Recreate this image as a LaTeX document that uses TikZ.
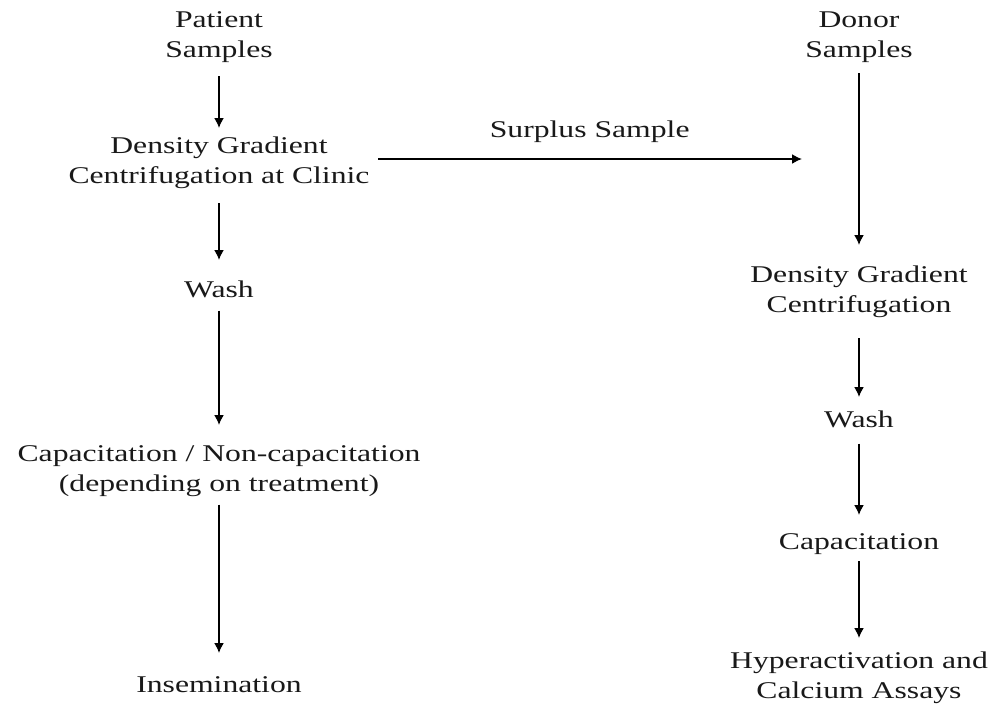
\documentclass[tikz,border=0pt]{standalone}
\usepackage{fontspec}
\setmainfont{Liberation Serif}[FakeStretch=1.32]
\usetikzlibrary{arrows.meta}
\definecolor{ink}{gray}{0.1}
\tikzset{
  lbl/.style={inner sep=0pt, outer sep=0pt, align=center, anchor=north, text=ink,
              font=\fontsize{24}{30}\selectfont},
  arr/.style={draw=black, line width=1.6pt, -{Latex[length=10pt,width=10pt]}}
}
\begin{document}
\begin{tikzpicture}[x=1pt,y=-1pt]
\useasboundingbox[fill=white] (0,0) rectangle (994,715);
% left column
\node[lbl] (pat)  at (219,12)    {Patient\\Samples};
\node[lbl] (dgcL) at (219,137)   {Density Gradient\\Centrifugation at Clinic};
\node[lbl] (washL) at (219,280.6) {Wash};
\node[lbl] (capL) at (219,445.6) {Capacitation / Non-capacitation\\(depending on treatment)};
\node[lbl] (ins)  at (219,676.6) {Insemination};
% right column
\node[lbl] (don)  at (859,12)    {Donor\\Samples};
\node[lbl] (dgcR) at (859,265.6) {Density Gradient\\Centrifugation};
\node[lbl] (washR) at (859,410.6) {Wash};
\node[lbl] (capR) at (859,533.6) {Capacitation};
\node[lbl] (hyp)  at (859,651.6) {Hyperactivation and\\Calcium Assays};
% left arrows
\draw[arr, shorten <=13.4pt, shorten >=9pt]    (pat.south)  -- (dgcL.north);
\draw[arr, shorten <=14.4pt, shorten >=20.6pt] (dgcL.south) -- (washL.north);
\draw[arr, shorten <=13pt,   shorten >=20.6pt] (washL.south) -- (capL.north);
\draw[arr, shorten <=8pt,    shorten >=23.6pt] (capL.south) -- (ins.north);
% right arrows
\draw[arr, shorten <=10.4pt, shorten >=20.6pt] (don.south)  -- (dgcR.north);
\draw[arr, shorten <=20.8pt, shorten >=13.6pt] (dgcR.south) -- (washR.north);
\draw[arr, shorten <=16pt,   shorten >=18.6pt] (washR.south) -- (capR.north);
\draw[arr, shorten <=6.8pt,  shorten >=13.6pt] (capR.south) -- (hyp.north);
% surplus arrow
\coordinate (sEnd) at (802,159);
\draw[arr, shorten <=9pt] (dgcL.east |- sEnd) -- (sEnd)
  node[midway, above=16pt, lbl, anchor=south, xshift=4pt] (surp) {Surplus Sample};
\end{tikzpicture}
\end{document}
